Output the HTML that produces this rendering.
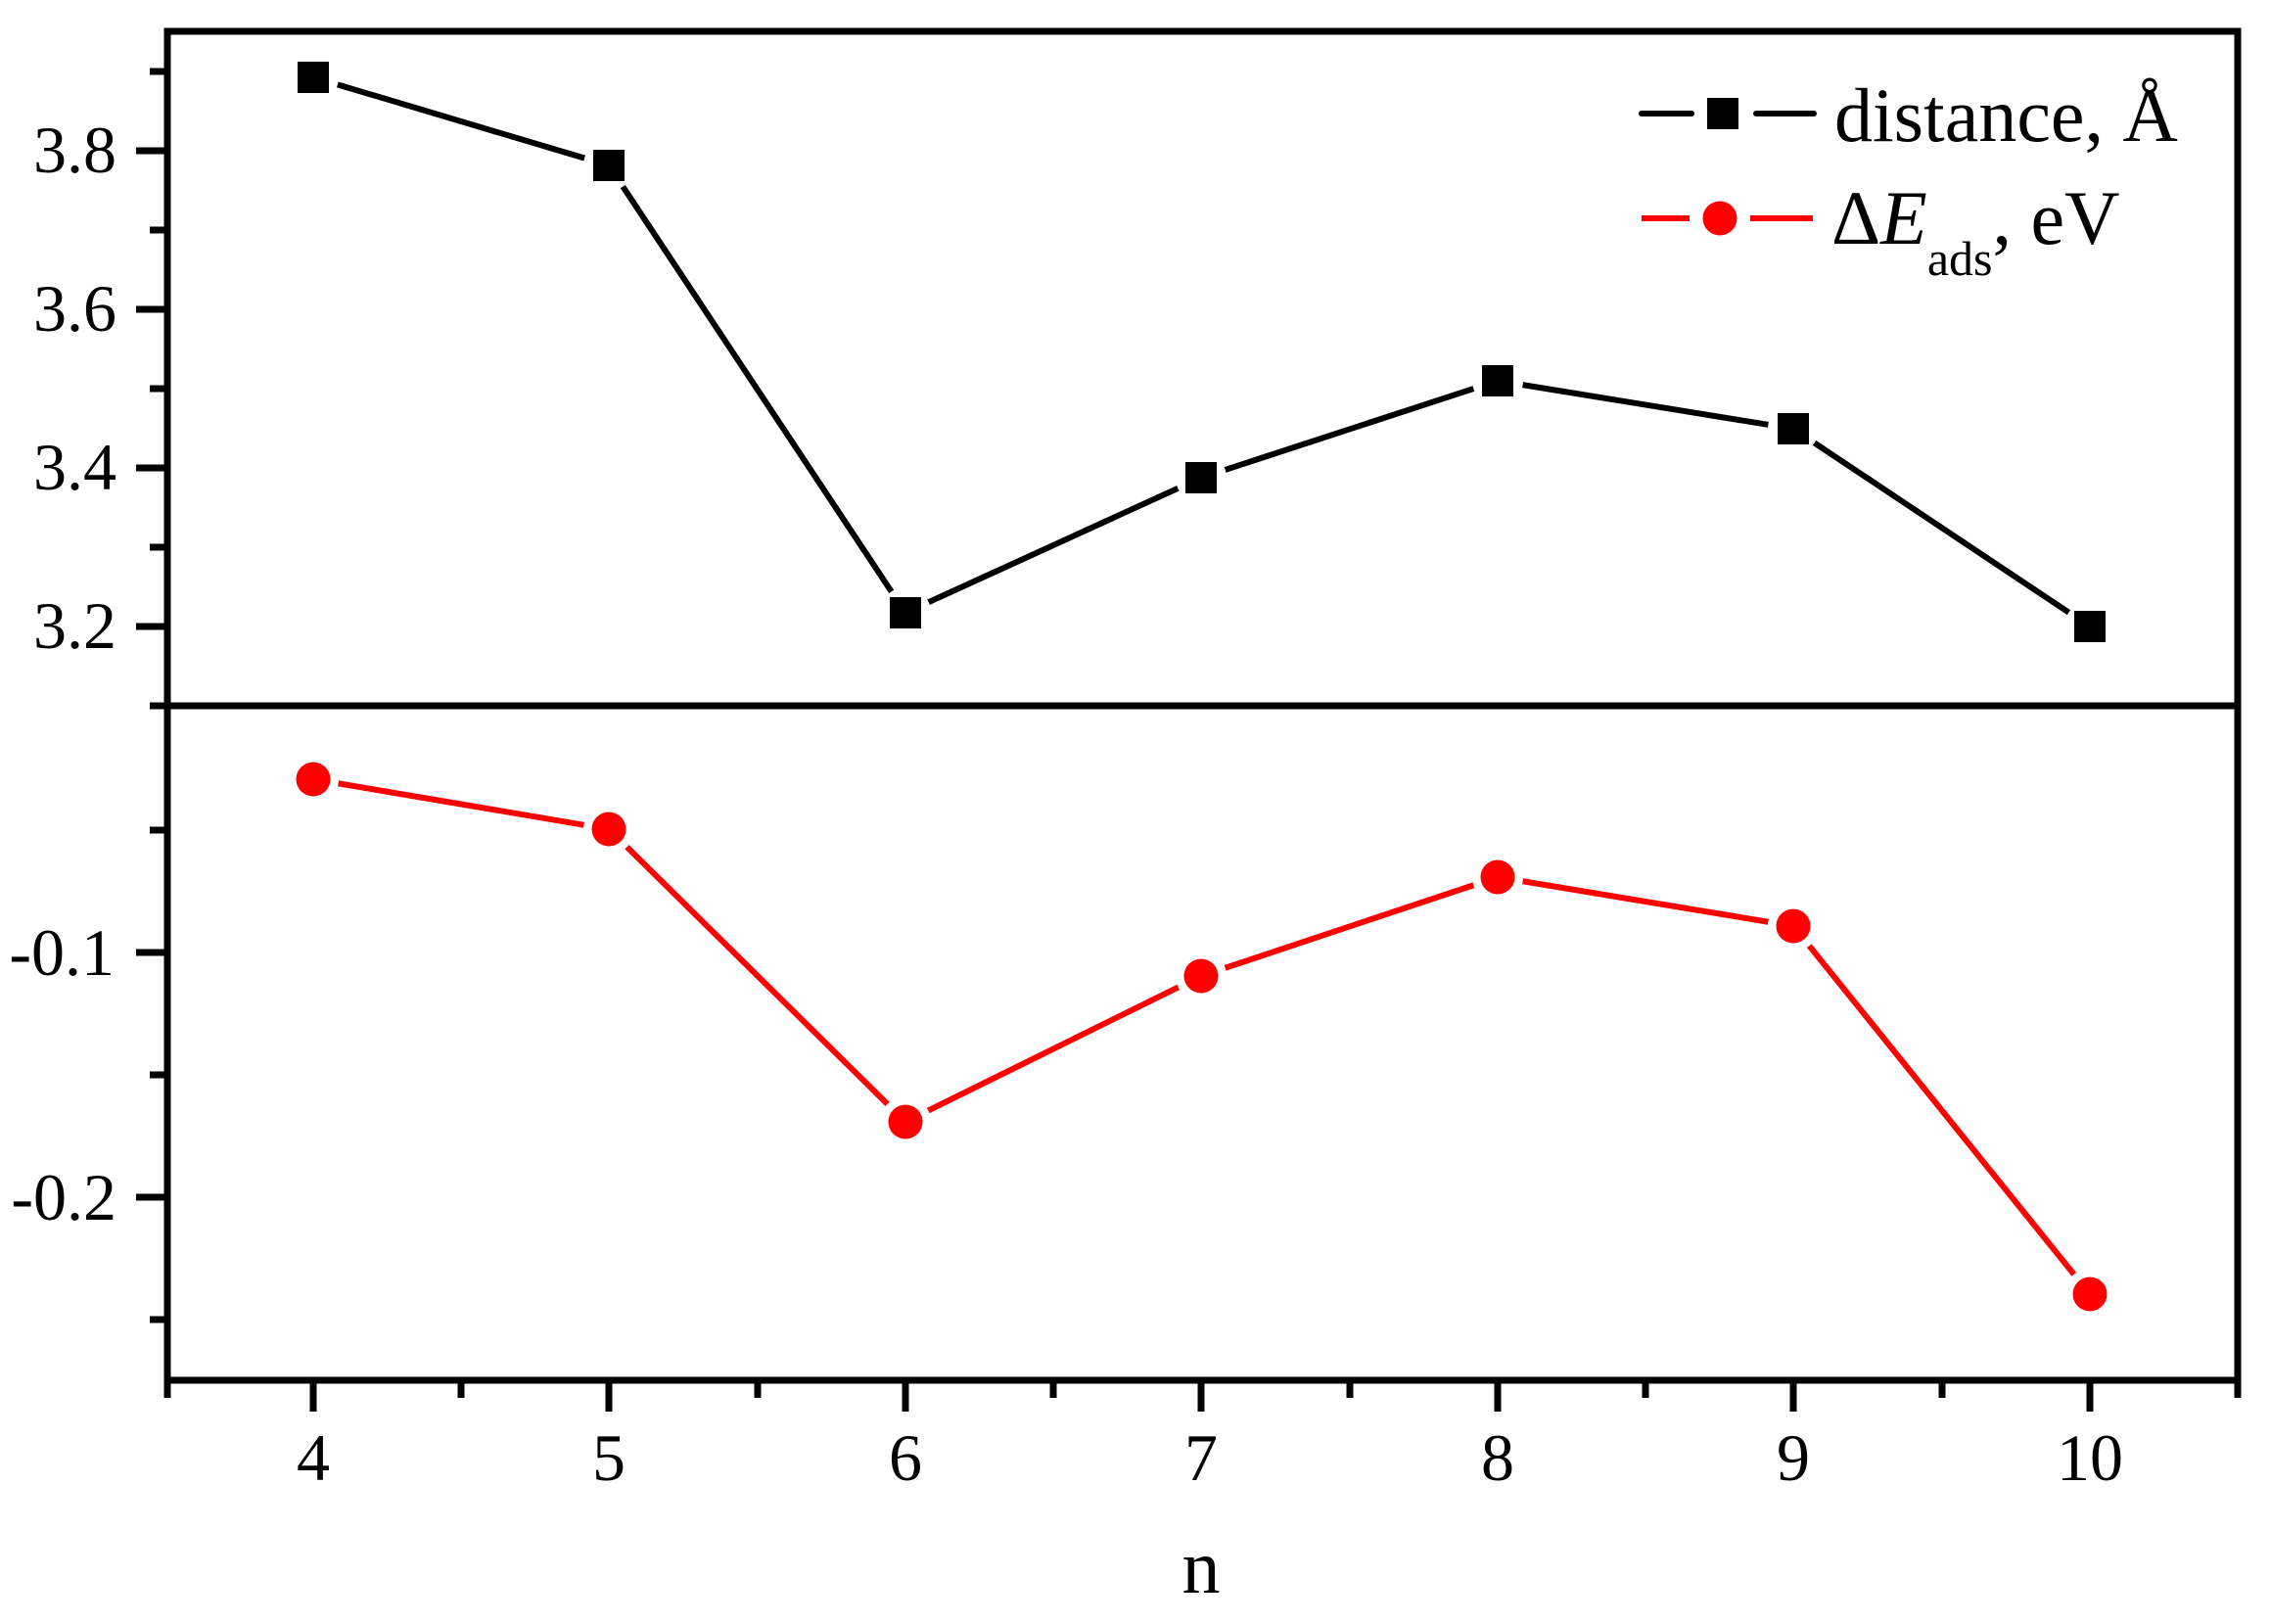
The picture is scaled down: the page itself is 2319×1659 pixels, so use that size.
<!DOCTYPE html>
<html><head><meta charset="utf-8"><style>
html,body{margin:0;padding:0;background:#fff;}
svg{display:block;}
text{font-family:"Liberation Serif",serif;fill:#000;}
</style></head><body>
<svg width="2319" height="1659" viewBox="0 0 2319 1659" xmlns="http://www.w3.org/2000/svg">
<rect width="2319" height="1659" fill="#fff"/>
<polyline points="320,79 622,169 925,626 1227,488 1530,389 1832,438 2135,640" fill="none" stroke="#000" stroke-width="6"/>
<polyline points="320,796 622,847 925,1146 1227,997 1530,896 1832,946 2135,1322" fill="none" stroke="#ff0000" stroke-width="6"/>
<g fill="#fff">
<circle cx="320" cy="79" r="26"/><circle cx="622" cy="169" r="26"/><circle cx="925" cy="626" r="26"/><circle cx="1227" cy="488" r="26"/><circle cx="1530" cy="389" r="26"/><circle cx="1832" cy="438" r="26"/><circle cx="2135" cy="640" r="26"/>
<circle cx="320" cy="796" r="26"/><circle cx="622" cy="847" r="26"/><circle cx="925" cy="1146" r="26"/><circle cx="1227" cy="997" r="26"/><circle cx="1530" cy="896" r="26"/><circle cx="1832" cy="946" r="26"/><circle cx="2135" cy="1322" r="26"/>
</g>
<g fill="#000">
<rect x="304" y="63" width="32" height="32"/><rect x="606" y="153" width="32" height="32"/><rect x="909" y="610" width="32" height="32"/><rect x="1211" y="472" width="32" height="32"/><rect x="1514" y="373" width="32" height="32"/><rect x="1816" y="422" width="32" height="32"/><rect x="2119" y="624" width="32" height="32"/>
</g>
<g fill="#ff0000">
<circle cx="320" cy="796" r="17.5"/><circle cx="622" cy="847" r="17.5"/><circle cx="925" cy="1146" r="17.5"/><circle cx="1227" cy="997" r="17.5"/><circle cx="1530" cy="896" r="17.5"/><circle cx="1832" cy="946" r="17.5"/><circle cx="2135" cy="1322" r="17.5"/>
</g>
<g stroke="#000" stroke-width="7" fill="none">
<rect x="171" y="32" width="2115" height="1378"/>
<line x1="171" y1="721" x2="2286" y2="721"/>
<line x1="139" y1="154" x2="171" y2="154"/><line x1="139" y1="316" x2="171" y2="316"/><line x1="139" y1="478" x2="171" y2="478"/><line x1="139" y1="640" x2="171" y2="640"/>
<line x1="139" y1="973" x2="171" y2="973"/><line x1="139" y1="1223" x2="171" y2="1223"/>
<line x1="153" y1="73" x2="171" y2="73"/><line x1="153" y1="235" x2="171" y2="235"/><line x1="153" y1="397" x2="171" y2="397"/><line x1="153" y1="559" x2="171" y2="559"/><line x1="153" y1="721" x2="171" y2="721"/>
<line x1="153" y1="848" x2="171" y2="848"/><line x1="153" y1="1098" x2="171" y2="1098"/><line x1="153" y1="1348" x2="171" y2="1348"/>
<line x1="320" y1="1410" x2="320" y2="1442"/><line x1="622" y1="1410" x2="622" y2="1442"/><line x1="925" y1="1410" x2="925" y2="1442"/><line x1="1227" y1="1410" x2="1227" y2="1442"/><line x1="1530" y1="1410" x2="1530" y2="1442"/><line x1="1832" y1="1410" x2="1832" y2="1442"/><line x1="2135" y1="1410" x2="2135" y2="1442"/>
<line x1="171" y1="1410" x2="171" y2="1428"/><line x1="471" y1="1410" x2="471" y2="1428"/><line x1="774" y1="1410" x2="774" y2="1428"/><line x1="1076" y1="1410" x2="1076" y2="1428"/><line x1="1379" y1="1410" x2="1379" y2="1428"/><line x1="1681" y1="1410" x2="1681" y2="1428"/><line x1="1984" y1="1410" x2="1984" y2="1428"/><line x1="2286" y1="1410" x2="2286" y2="1428"/>
</g>
<g font-size="68" text-anchor="end">
<text x="119" y="176">3.8</text><text x="119" y="338">3.6</text><text x="119" y="500">3.4</text><text x="119" y="662">3.2</text>
<text x="117" y="996">-0.1</text><text x="119" y="1246">-0.2</text>
</g>
<g font-size="68" text-anchor="middle">
<text x="320" y="1512">4</text><text x="622" y="1512">5</text><text x="925" y="1512">6</text><text x="1227" y="1512">7</text><text x="1530" y="1512">8</text><text x="1832" y="1512">9</text><text x="2135" y="1512">10</text>
</g>
<text x="1227" y="1627" font-size="78" text-anchor="middle">n</text>
<g stroke-width="6" stroke-linecap="round">
<line x1="1677" y1="116" x2="1728" y2="116" stroke="#000"/><line x1="1794" y1="116" x2="1853" y2="116" stroke="#000"/>
<line x1="1677" y1="223" x2="1726" y2="223" stroke="#ff0000" stroke-linecap="butt"/><line x1="1788" y1="223" x2="1852" y2="223" stroke="#ff0000" stroke-linecap="butt"/>
</g>
<rect x="1744" y="100" width="32" height="32" fill="#000"/>
<circle cx="1757" cy="223" r="17.5" fill="#ff0000"/>
<text x="1874" y="144" font-size="78">distance, Å</text>
<text x="1871" y="249" font-size="78">Δ<tspan font-style="italic">E</tspan><tspan font-size="50" dy="32">ads</tspan><tspan dy="-32">, eV</tspan></text>
</svg>
</body></html>
